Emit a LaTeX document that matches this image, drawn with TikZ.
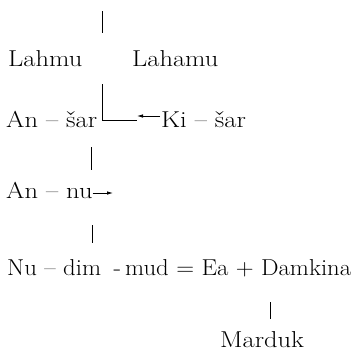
\documentclass[tikz,border=0pt]{standalone}
\usepackage{graphicx}
\usetikzlibrary{arrows.meta}
\newcommand\godname[1]{\scalebox{1.15}[1]{#1}}
\begin{document}
\begin{tikzpicture}[x=1pt,y=-1pt,
  god/.style={inner sep=0pt,anchor=base west,font=\fontsize{23}{26}\selectfont},
  link/.style={line width=0.8pt},
  pointer/.style={line width=0.8pt,-{Latex[length=6pt,width=3.5pt]}}]
\useasboundingbox (0,0) rectangle (357,354);
% names of the generations
\node[god] (lahmu)  at (8,66)    {\godname{Lahmu}};
\node[god] (lahamu) at (132,66)  {\godname{Lahamu}};
\node[god] (ansar)  at (6,127)   {\godname{An -- šar}};
\node[god] (kisar)  at (161,127) {\godname{Ki -- šar}};
\node[god] (anu)    at (6,198)   {\godname{An -- nu}};
\node[god] (ea)     at (7,275)   {\resizebox{344pt}{\height}{Nu -- dim\enspace-\thinspace mud = Ea + Damkina}};
\node[god] (marduk) at (220,347) {\godname{Marduk}};
% descent lines
\coordinate (top) at (102,11);
\coordinate (topend) at (102,33);
\draw[link] (top) -- (topend);
\coordinate (j1) at (102,84);
\coordinate (j2) at (102,120);
\coordinate (j3) at (137,120);
\draw[link] (j1) -- (j2) -- (j3);
\coordinate (kt) at (160,116);
\draw[pointer] (kt) -- (j3 |- kt);
\coordinate (a1) at (91,147);
\coordinate (a2) at (91,170);
\draw[link] (a1) -- (a2);
\coordinate (nuarr) at (113,193);
\draw[pointer] (anu.east |- nuarr) -- (nuarr);
\coordinate (b1) at (92,225);
\coordinate (b2) at (92,243);
\draw[link] (b1) -- (b2);
\coordinate (c1) at (270,302);
\coordinate (c2) at (270,319);
\draw[link] (c1) -- (c2);
\end{tikzpicture}
\end{document}
